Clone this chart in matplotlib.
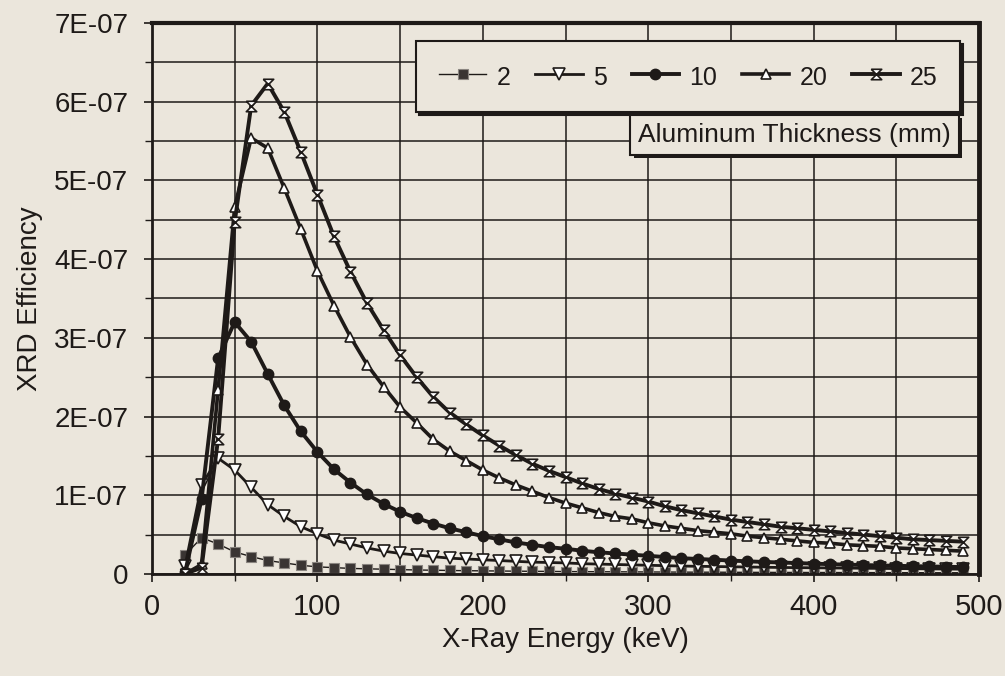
import matplotlib
matplotlib.use("Agg")
import matplotlib.pyplot as plt
import matplotlib.patheffects as pe
from matplotlib.path import Path
from matplotlib.ticker import MultipleLocator, FuncFormatter

plt.rcParams['font.family'] = ['Liberation Sans', 'DejaVu Sans']

# X-ray energy (keV)
energy = [20, 30, 40, 50, 60, 70, 80, 90, 100,
          110, 120, 130, 140, 150, 160, 170, 180, 190, 200,
          210, 220, 230, 240, 250, 260, 270, 280, 290, 300,
          310, 320, 330, 340, 350, 360, 370, 380, 390, 400,
          410, 420, 430, 440, 450, 460, 470, 480, 490]

# XRD efficiency in units of 1E-07, one list per aluminum thickness
al_2mm = [0.24, 0.46, 0.38, 0.28, 0.22, 0.17, 0.14, 0.11, 0.09,
          0.08, 0.07, 0.065, 0.06, 0.055, 0.05, 0.047, 0.044, 0.041, 0.039,
          0.037, 0.035, 0.033, 0.032, 0.030, 0.029, 0.028, 0.027, 0.026, 0.025,
          0.024, 0.023, 0.022, 0.022, 0.021, 0.020, 0.020, 0.019, 0.019, 0.018,
          0.018, 0.017, 0.017, 0.016, 0.016, 0.016, 0.015, 0.015, 0.015]
al_5mm = [0.10, 1.13, 1.47, 1.32, 1.10, 0.88, 0.73, 0.60, 0.51,
          0.43, 0.38, 0.33, 0.29, 0.26, 0.24, 0.22, 0.20, 0.19, 0.18,
          0.17, 0.16, 0.15, 0.145, 0.14, 0.13, 0.125, 0.12, 0.115, 0.11,
          0.105, 0.10, 0.097, 0.094, 0.091, 0.088, 0.085, 0.082, 0.080, 0.078,
          0.076, 0.074, 0.072, 0.070, 0.068, 0.066, 0.064, 0.062, 0.060]
al_10mm = [0.02, 0.95, 2.74, 3.20, 2.95, 2.54, 2.14, 1.81, 1.55,
           1.33, 1.16, 1.01, 0.89, 0.79, 0.71, 0.64, 0.58, 0.53, 0.48,
           0.44, 0.40, 0.37, 0.34, 0.32, 0.295, 0.275, 0.26, 0.245, 0.23,
           0.215, 0.20, 0.19, 0.18, 0.17, 0.16, 0.152, 0.145, 0.138, 0.13,
           0.124, 0.118, 0.113, 0.108, 0.103, 0.099, 0.095, 0.091, 0.087]
al_20mm = [0.0, 0.12, 2.34, 4.66, 5.54, 5.41, 4.90, 4.38, 3.85,
           3.41, 3.01, 2.66, 2.38, 2.12, 1.92, 1.71, 1.56, 1.44, 1.32,
           1.22, 1.13, 1.05, 0.97, 0.90, 0.84, 0.78, 0.73, 0.70, 0.65,
           0.61, 0.58, 0.55, 0.53, 0.51, 0.48, 0.46, 0.44, 0.42, 0.40,
           0.39, 0.37, 0.36, 0.35, 0.33, 0.32, 0.31, 0.30, 0.29]
al_25mm = [0.0, 0.08, 1.72, 4.47, 5.95, 6.23, 5.87, 5.36, 4.82,
           4.29, 3.84, 3.44, 3.10, 2.78, 2.50, 2.25, 2.05, 1.90, 1.76,
           1.63, 1.51, 1.40, 1.31, 1.23, 1.15, 1.08, 1.02, 0.97, 0.92,
           0.86, 0.81, 0.77, 0.73, 0.69, 0.66, 0.63, 0.60, 0.58, 0.56,
           0.54, 0.52, 0.50, 0.48, 0.46, 0.44, 0.43, 0.42, 0.41]

labels = ['2', '5', '10', '20', '25']
UNIT = 1e-7

BG = '#ebe6dc'
INK = '#1e1a18'

# hourglass marker for the 25 mm series
hourglass = Path([(-1, 1), (1, 1), (-1, -1), (1, -1), (-1, 1)])

styles = [
    dict(marker='s', ms=7.5, mfc='#3a3533', mec='#8a8580', mew=0.8, lw=1.0),
    dict(marker='v', ms=8, mfc='white', mec=INK, mew=1.2, lw=2.0),
    dict(marker='o', ms=7.5, mfc=INK, mec=INK, mew=1.0, lw=2.8),
    dict(marker='^', ms=6.5, mfc='white', mec=INK, mew=1.2, lw=2.6),
    dict(marker=hourglass, ms=7.5, mfc='white', mec=INK, mew=1.2, lw=2.8),
]

fig = plt.figure(figsize=(10.05, 6.76), dpi=100, facecolor=BG)
ax = fig.add_axes([0.1512, 0.151, 0.823, 0.815], facecolor=BG)

series = [al_2mm, al_5mm, al_10mm, al_20mm, al_25mm]
for vals, lab, st in zip(series, labels, styles):
    ax.plot(energy, [v * UNIT for v in vals], color=INK, label=lab, **st)

ax.set_xlim(0, 500)
ax.set_ylim(0, 7e-7)
ax.xaxis.set_major_locator(MultipleLocator(100))
ax.xaxis.set_minor_locator(MultipleLocator(50))
ax.yaxis.set_major_locator(MultipleLocator(1e-7))
ax.yaxis.set_minor_locator(MultipleLocator(0.5e-7))
ax.yaxis.set_major_formatter(FuncFormatter(lambda v, p: '0' if abs(v) < 1e-12 else '{:.0E}'.format(v)))

ax.grid(True, which='both', color=INK, lw=1.1)
ax.set_axisbelow(True)
ax.tick_params(which='major', direction='out', length=6, width=1.2, colors=INK)
ax.tick_params(which='minor', direction='out', length=5, width=1.0, colors=INK)
ax.tick_params(axis='y', labelsize=20, pad=11)
ax.tick_params(axis='x', labelsize=21, pad=8)
for side in ax.spines:
    ax.spines[side].set_linewidth(2.0)
    ax.spines[side].set_color(INK)
ax.spines['right'].set_linewidth(3.5)
ax.spines['top'].set_linewidth(3.0)

ax.set_xlabel('X-Ray Energy (keV)', fontsize=20, color=INK, labelpad=4)
ax.set_ylabel('XRD Efficiency', fontsize=20, color=INK, labelpad=8)

leg = ax.legend(ncol=5, loc='upper right', bbox_to_anchor=(0.977, 0.967),
                borderaxespad=0,
                fontsize=18, numpoints=1, handlelength=1.9, handleheight=1.2,
                handletextpad=0.4, columnspacing=1.0, borderpad=0.9,
                frameon=True, fancybox=False, shadow={'color': INK, 'alpha': 1},
                facecolor=BG, edgecolor=INK, framealpha=1)
leg.get_frame().set_linewidth(1.5)
for t in leg.get_texts():
    t.set_color(INK)

# title box under the legend, with a drop shadow on its frame
title = ax.text(0.966, 0.797, 'Aluminum Thickness (mm)', transform=ax.transAxes,
                ha='right', va='center', fontsize=19, color=INK, zorder=6,
                bbox=dict(boxstyle='square,pad=0.3', fc=BG, ec=INK, lw=1.5))
title.get_bbox_patch().set_path_effects([
    pe.SimplePatchShadow(offset=(2.5, -2.5), shadow_rgbFace=INK, alpha=1),
    pe.Normal()])

fig.savefig('out.png', dpi=100, facecolor=BG)
